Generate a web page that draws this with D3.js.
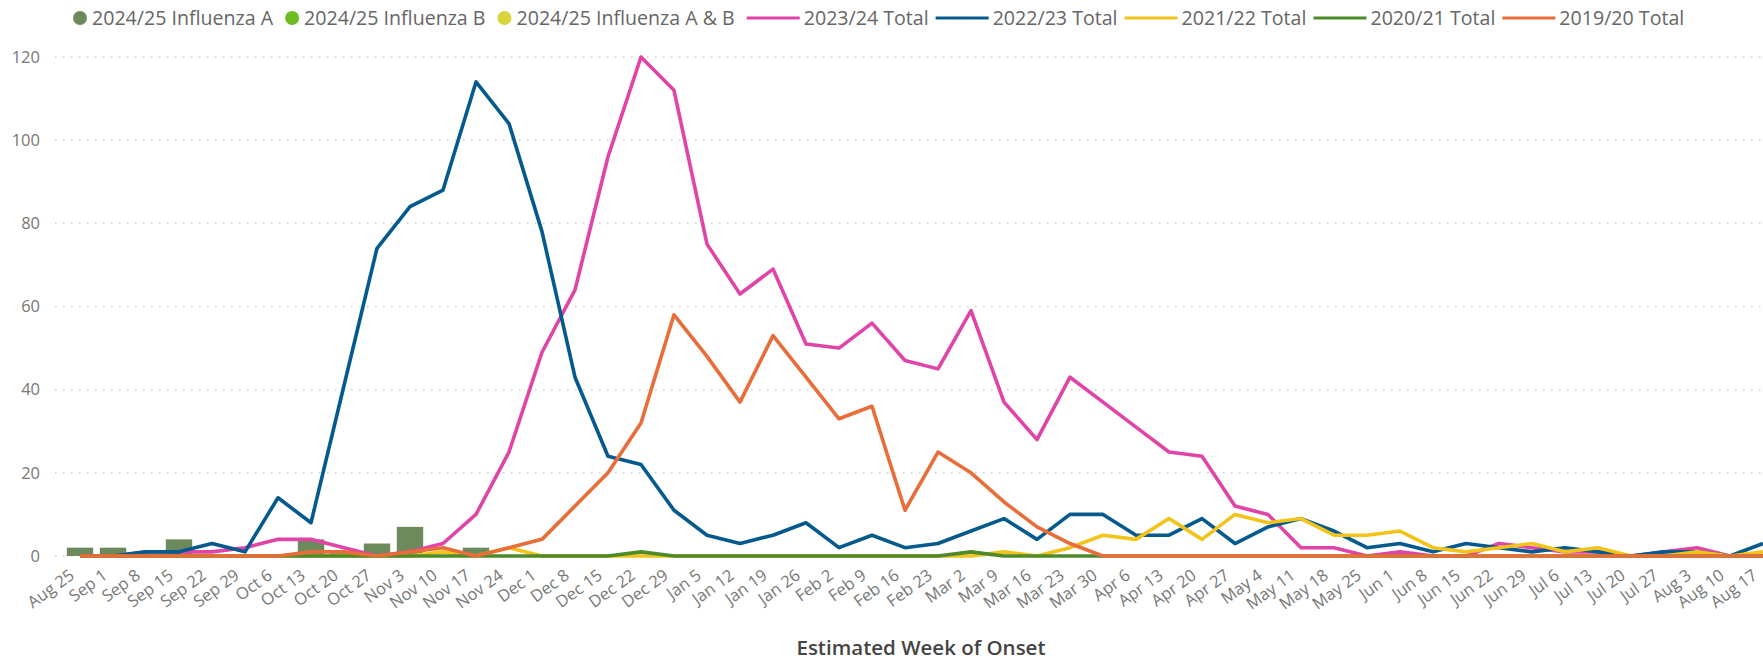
<!DOCTYPE html>
<html lang="en">
<head>
    <meta charset="UTF-8">
    <title>Influenza cases by estimated week of onset</title>
    <script src="https://d3js.org/d3.v7.min.js"></script>
    <style>
        body{ margin:0; background:#fff; }
        text{ font-family:"Open Sans", sans-serif; }
        .grid line{ stroke:#d0d0d0; stroke-width:1.5; stroke-dasharray:1.5,6.5; }
    </style>
</head>
<body>
<div id="fig"></div>
<script>
    let weeks = ["Aug 25","Sep 1","Sep 8","Sep 15","Sep 22","Sep 29","Oct 6","Oct 13","Oct 20","Oct 27",
        "Nov 3","Nov 10","Nov 17","Nov 24","Dec 1","Dec 8","Dec 15","Dec 22","Dec 29","Jan 5",
        "Jan 12","Jan 19","Jan 26","Feb 2","Feb 9","Feb 16","Feb 23","Mar 2","Mar 9","Mar 16",
        "Mar 23","Mar 30","Apr 6","Apr 13","Apr 20","Apr 27","May 4","May 11","May 18","May 25",
        "Jun 1","Jun 8","Jun 15","Jun 22","Jun 29","Jul 6","Jul 13","Jul 20","Jul 27","Aug 3",
        "Aug 10","Aug 17"]

    // 2024/25 columns (stacked)
    let fluA  = [2,2,0,4,0,0,0,4,0,3, 7,0,2,0,0,0,0,0,0,0, 0,0,0,0,0,0,0,0,0,0, 0,0,0,0,0,0,0,0,0,0, 0,0,0,0,0,0,0,0,0,0, 0,0]
    let fluB  = [0,0,0,0,0,0,0,0,1,0, 0,0,0,0,0,0,0,0,0,0, 0,0,0,0,0,0,0,0,0,0, 0,0,0,0,0,0,0,0,0,0, 0,0,0,0,0,0,0,0,0,0, 0,0]
    let fluAB = [0,0,0,0,0,0,0,0,0,0, 0,0,0,0,0,0,0,0,0,0, 0,0,0,0,0,0,0,0,0,0, 0,0,0,0,0,0,0,0,0,0, 0,0,0,0,0,0,0,0,0,0, 0,0]

    // previous season totals
    let total2324 = [0,0,1,1,1,2,4,4,2,0, 1,3,10,25,49,64,96,120,112,75, 63,69,51,50,56,47,45,59,37,28,
        43,37,31,25,24,12,10,2,2,0, 1,0,0,3,2,1,1,0,1,2, 0,0]
    let total2223 = [0,0,1,1,3,1,14,8,41,74, 84,88,114,104,78,43,24,22,11,5, 3,5,8,2,5,2,3,6,9,4,
        10,10,5,5,9,3,7,9,6,2, 3,1,3,2,1,2,1,0,1,1, 0,3]
    let total2122 = [0,0,0,0,0,0,0,0,0,0, 0,1,0,2,0,0,0,0,0,0, 0,0,0,0,0,0,0,0,1,0,
        2,5,4,9,4,10,8,9,5,5, 6,2,1,2,3,1,2,0,0,1, 0,1]
    let total2021 = [0,0,0,0,0,0,0,0,0,0, 0,0,0,0,0,0,0,1,0,0, 0,0,0,0,0,0,0,1,0,0,
        0,0,0,0,0,0,0,0,0,0, 0,0,0,0,0,0,0,0,0,0, 0,0]
    let total1920 = [0,0,0,0,0,0,0,1,1,0, 1,2,0,2,4,12,20,32,58,48, 37,53,43,33,36,11,25,20,13,7,
        3,0,0,0,0,0,0,0,0,0, 0,0,0,0,0,0,0,0,0,0, 0,0]

    let yTicks = [0,20,40,60,80,100,120]

    let barSeries = [
        {name:"2024/25 Influenza A", values:fluA, color:"#6d8a5c"},
        {name:"2024/25 Influenza B", values:fluB, color:"#6cbc22"},
        {name:"2024/25 Influenza A & B", values:fluAB, color:"#d8d43c"}
    ]
    let lineSeries = [
        {name:"2023/24 Total", values:total2324, color:"#e044a7"},
        {name:"2022/23 Total", values:total2223, color:"#045a8d"},
        {name:"2021/22 Total", values:total2122, color:"#f3c31a"},
        {name:"2020/21 Total", values:total2021, color:"#4d8a2a"},
        {name:"2019/20 Total", values:total1920, color:"#e86d38"}
    ]

    let W = 1763, H = 661

    let svg = d3.select("#fig").append("svg")
        .attr("width", W).attr("height", H)
        .attr("viewBox", `0 0 ${W} ${H}`)

    let x = d3.scaleBand().domain(weeks)
        .range([63.5, 1779.5]).paddingInner(0.2).paddingOuter(0.1)
    let y = d3.scaleLinear().domain([0, 120]).range([556, 57])
    let cx = d => x(d) + x.bandwidth() / 2

    // gridlines
    svg.append("g").attr("class", "grid")
        .selectAll("line").data(yTicks).join("line")
        .attr("x1", 55).attr("x2", W)
        .attr("y1", d => y(d)).attr("y2", d => y(d))

    // y axis labels
    svg.append("g").selectAll("text").data(yTicks).join("text")
        .attr("x", 40).attr("y", d => y(d)).attr("dy", "0.35em")
        .attr("text-anchor", "end")
        .attr("font-size", 16.5).attr("fill", "#777")
        .text(d => d)

    // x axis labels
    let xAxis = svg.append("g").attr("transform", "translate(0,569)")
        .call(d3.axisBottom(x).tickSize(0).tickPadding(0))
    xAxis.select(".domain").remove()
    xAxis.selectAll("text")
        .attr("font-family", "Open Sans, sans-serif")
        .attr("font-size", 16.5).attr("fill", "#777")
        .attr("text-anchor", "end")
        .attr("y", 0).attr("dy", "0.35em")
        .attr("transform", "translate(-8,4) rotate(-36)")

    // stacked columns
    let rows = weeks.map((w, i) => {
        let r = {week: w}
        barSeries.forEach(s => r[s.name] = s.values[i])
        return r
    })
    let stack = d3.stack().keys(barSeries.map(s => s.name))(rows)
    svg.append("g").selectAll("g").data(stack).join("g")
        .attr("fill", (d, i) => barSeries[i].color)
        .selectAll("rect").data(d => d).join("rect")
        .attr("x", d => x(d.data.week))
        .attr("width", x.bandwidth())
        .attr("y", d => y(d[1]))
        .attr("height", d => y(d[0]) - y(d[1]))

    // lines
    let line = d3.line().x((d, i) => cx(weeks[i])).y(d => y(d))
    svg.append("g").selectAll("path").data(lineSeries).join("path")
        .attr("fill", "none")
        .attr("stroke", d => d.color)
        .attr("stroke-width", 3.6)
        .attr("stroke-linejoin", "round")
        .attr("d", d => line(d.values))

    // legend
    let legend = svg.append("g").attr("transform", "translate(73,18)")
    let lx = 0
    barSeries.forEach(s => {
        legend.append("circle").attr("cx", lx + 7).attr("cy", 0).attr("r", 7).attr("fill", s.color)
        let t = legend.append("text").attr("x", lx + 19).attr("y", 0).attr("dy", "0.35em")
            .attr("font-size", 19.6).attr("fill", "#666").text(s.name)
        lx += 19 + t.node().getComputedTextLength() + 12
    })
    lineSeries.forEach(s => {
        legend.append("line").attr("x1", lx).attr("x2", lx + 53)
            .attr("y1", 0).attr("y2", 0)
            .attr("stroke", s.color).attr("stroke-width", 3)
        let t = legend.append("text").attr("x", lx + 57).attr("y", 0).attr("dy", "0.35em")
            .attr("font-size", 19.6).attr("fill", "#666").text(s.name)
        lx += 57 + t.node().getComputedTextLength() + 7
    })

    // axis title
    svg.append("text")
        .attr("x", 921).attr("y", 648).attr("dy", "0.35em")
        .attr("text-anchor", "middle")
        .attr("font-size", 20.5).attr("font-weight", 600).attr("fill", "#444")
        .text("Estimated Week of Onset")
</script>
</body>
</html>
